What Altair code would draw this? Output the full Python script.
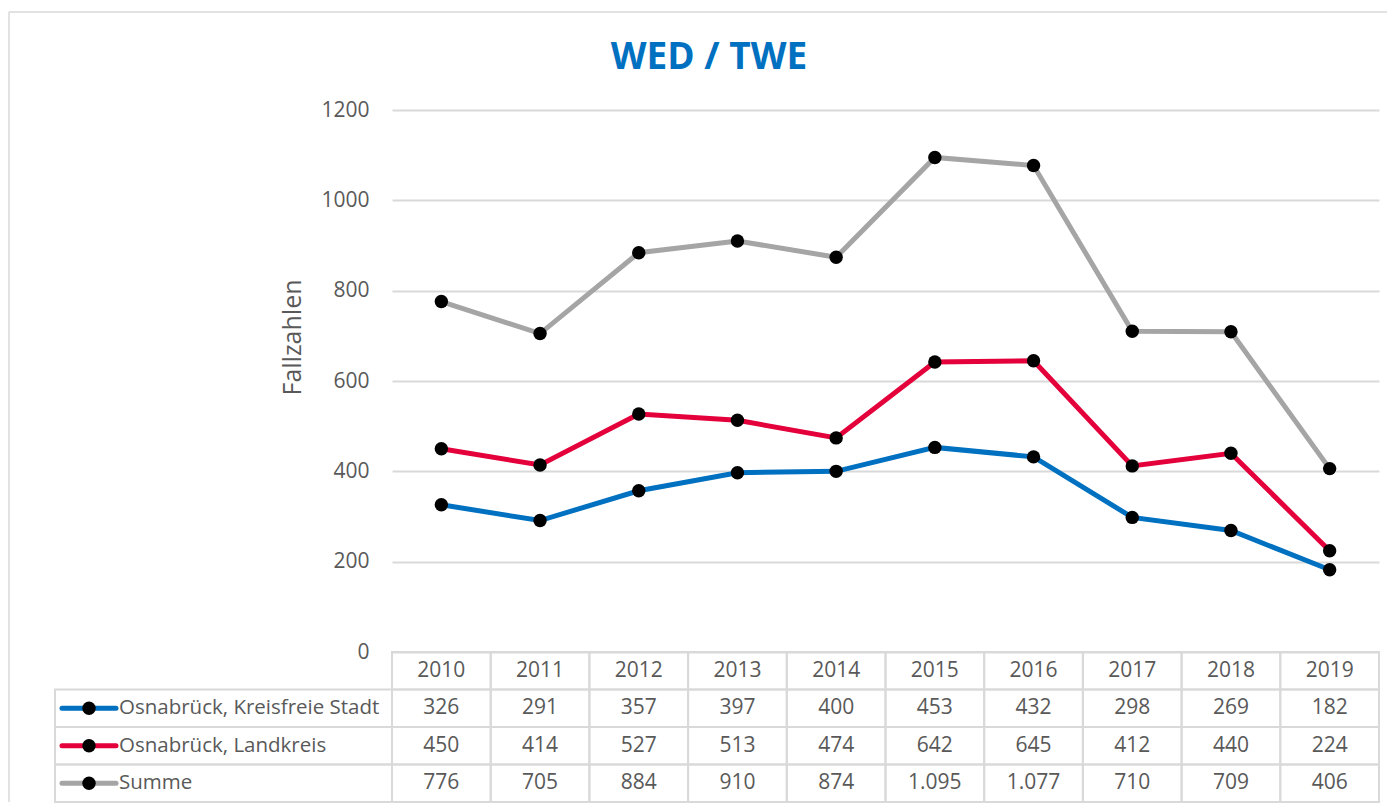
import altair as alt
import pandas as pd

# ---- data ----
years = ["2010", "2011", "2012", "2013", "2014", "2015", "2016", "2017", "2018", "2019"]
series_names = ["Osnabrück, Kreisfreie Stadt", "Osnabrück, Landkreis", "Summe"]
stadt = [326, 291, 357, 397, 400, 453, 432, 298, 269, 182]
landkreis = [450, 414, 527, 513, 474, 642, 645, 412, 440, 224]
summe = [776, 705, 884, 910, 874, 1095, 1077, 710, 709, 406]
series_colors = ["#0070C0", "#E4003B", "#A5A5A5"]
y_ticks = [0, 200, 400, 600, 800, 1000, 1200]
title_text = "WED / TWE"
y_title = "Fallzahlen"

values = [stadt, landkreis, summe]


def de_fmt(v):
    return f"{v:,}".replace(",", ".")


rows = []
for name, vals in zip(series_names, values):
    for yr, v in zip(years, vals):
        rows.append({"series": name, "year": yr, "value": v, "row": name, "label": de_fmt(v)})
df = pd.DataFrame(rows)

header = pd.DataFrame({"year": years, "row": ["header"] * len(years), "label": years})
table_df = pd.concat([header, df[["year", "row", "label"]]], ignore_index=True)
legend_df = pd.DataFrame({"series": series_names, "row": series_names})
one = pd.DataFrame({"t": [title_text]})

W = 987
H_PLOT = 542
H_TABLE = 150
GRID = "#d9d9d9"
TXT = "#595959"

x_enc = alt.X("year:O", scale=alt.Scale(type="band", domain=years, paddingInner=0, paddingOuter=0), axis=None)
y_val_scale = alt.Scale(domain=[0, 1200], range=[H_PLOT, 0], nice=False)
row_scale = alt.Scale(type="band", domain=["header"] + series_names, range=[H_PLOT, H_PLOT + H_TABLE],
                      paddingInner=0, paddingOuter=0)
color_enc = alt.Color("series:N", scale=alt.Scale(domain=series_names, range=series_colors), legend=None)

# chart frame (Excel chart area border, top + left)
frame_top = alt.Chart(one).mark_rule(color=GRID, strokeWidth=1.5).encode(
    x=alt.value(-383), x2=alt.value(995), y=alt.value(-98))
frame_left = alt.Chart(one).mark_rule(color=GRID, strokeWidth=1.5).encode(
    x=alt.value(-383), y=alt.value(-98), y2=alt.value(H_PLOT + H_TABLE))

title = alt.Chart(one).mark_text(
    font="Open Sans", fontSize=37, fontWeight="bold", color="#0070C0", align="center", baseline="alphabetic"
).encode(x=alt.value(317), y=alt.value(-41), text="t:N")

lines = alt.Chart(df).mark_line(strokeWidth=5).encode(
    x=x_enc,
    y=alt.Y("value:Q", scale=y_val_scale,
            axis=alt.Axis(values=y_ticks, format="d", title=y_title, grid=True, gridColor=GRID, gridWidth=2,
                          domain=False, ticks=False, tickSize=0, labelPadding=23,
                          labelFontSize=21, labelColor=TXT, labelFont="Open Sans", titleFont="Open Sans",
                          titleFontSize=25, titleFontWeight="normal", titleColor=TXT, titleX=-100, titleY=227,
                          titleAlign="center", titleBaseline="middle")),
    color=color_enc,
    detail="series:N",
)
points = alt.Chart(df).mark_circle(size=180, color="black", opacity=1).encode(
    x=x_enc,
    y=alt.Y("value:Q", scale=y_val_scale, axis=None),
)

cells = alt.Chart(table_df).mark_rect(fillOpacity=0, stroke=GRID, strokeWidth=2).encode(
    x=x_enc, y=alt.Y("row:N", scale=row_scale, axis=None))
cell_text = alt.Chart(table_df).mark_text(font="Open Sans", fontSize=21, color=TXT, baseline="middle").encode(
    x=x_enc, y=alt.Y("row:N", scale=row_scale, axis=None), text="label:N")

leg_cells = alt.Chart(legend_df).mark_rect(fillOpacity=0, stroke=GRID, strokeWidth=2).encode(
    x=alt.value(-337), x2=alt.value(0), y=alt.Y("row:N", scale=row_scale, axis=None))
leg_rule = alt.Chart(legend_df).mark_rule(strokeWidth=5, strokeCap="round").encode(
    x=alt.value(-330), x2=alt.value(-276), y=alt.Y("row:N", scale=row_scale, axis=None), color=color_enc)
leg_pt = alt.Chart(legend_df).mark_circle(size=180, color="black", opacity=1).encode(
    x=alt.value(-303), y=alt.Y("row:N", scale=row_scale, axis=None))
leg_text = alt.Chart(legend_df).mark_text(font="Open Sans", fontSize=20.5, color=TXT, align="left",
                                          baseline="middle").encode(
    x=alt.value(-273), y=alt.Y("row:N", scale=row_scale, axis=None), text="series:N")

chart = alt.layer(
    frame_top, frame_left, title, cells, leg_cells, lines, points, cell_text, leg_rule, leg_pt, leg_text
).resolve_scale(y="independent").properties(
    width=W, height=H_PLOT + H_TABLE,
    padding={"left": 0, "top": 3, "right": 0, "bottom": 0},
).configure(font="Open Sans").configure_view(stroke="transparent", strokeWidth=0).configure_axis(
    domain=False, ticks=False
)

chart.save("out.html", embed_options={"renderer": "svg", "actions": False})
